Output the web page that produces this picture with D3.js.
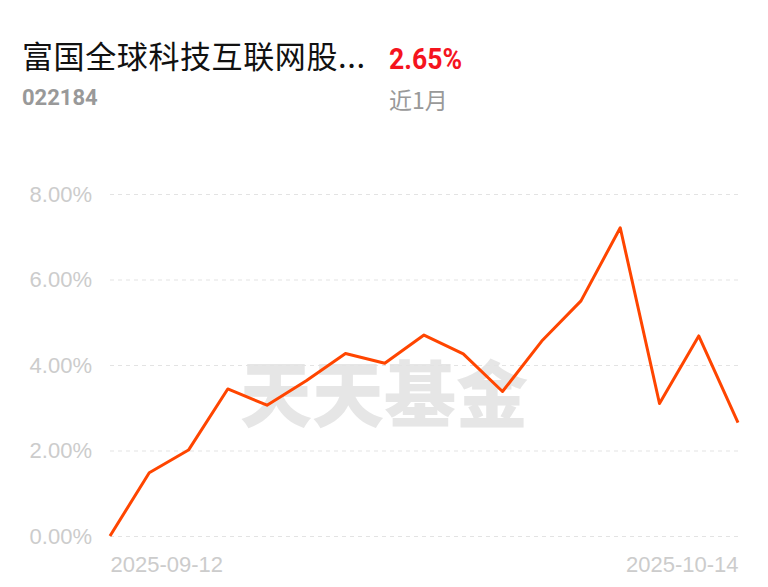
<!DOCTYPE html>
<html>
<head>
<meta charset="utf-8">
<script src="https://cdn.jsdelivr.net/npm/d3@7/dist/d3.min.js"></script>
<style>
  body { margin: 0; background: #fff; }
  svg { display: block; }
</style>
</head>
<body>
<div id="chart"></div>
<script>
// fund info
const fundName = "富国全球科技互联网股..."
const fundCode = "022184"
const periodReturn = "2.65%"
const periodLabel = "近1月"
const watermark = "天天基金"

// series: cumulative return (%) per trading day
const dates = ["2025-09-12", "2025-09-15", "2025-09-16", "2025-09-17", "2025-09-18",
    "2025-09-19", "2025-09-22", "2025-09-23", "2025-09-24", "2025-09-25", "2025-09-26",
    "2025-09-29", "2025-09-30", "2025-10-09", "2025-10-10", "2025-10-13", "2025-10-14"]
const returns = [0, 1.48, 2.01, 3.44, 3.06, 3.63, 4.27, 4.04, 4.70, 4.26, 3.38,
    4.56, 5.50, 7.21, 3.10, 4.68, 2.65]
const yTicks = [0, 2, 4, 6, 8]
const xTickLabels = ["2025-09-12", "2025-10-14"]

let width = 768
let height = 587
let margin = { top: 194, right: 30, bottom: 51, left: 110 }

let svg = d3.select("#chart")
    .append("svg")
    .attr("width", width)
    .attr("height", height)

// header
svg.append("text")
    .attr("x", 22).attr("y", 68)
    .attr("font-family", "'Noto Sans CJK SC', sans-serif")
    .attr("font-size", 31)
    .attr("letter-spacing", 0.6)
    .attr("fill", "#111")
    .text(fundName)

svg.append("text")
    .attr("x", 22).attr("y", 105)
    .attr("font-family", "Roboto, 'Noto Sans', sans-serif")
    .attr("font-weight", "bold")
    .attr("font-size", 22)
    .attr("fill", "#999")
    .text(fundCode)

svg.append("text")
    .attr("x", 389).attr("y", 69)
    .attr("font-family", "Roboto, 'Noto Sans', sans-serif")
    .attr("font-weight", "bold")
    .attr("font-size", 30)
    .attr("textLength", 73)
    .attr("lengthAdjust", "spacingAndGlyphs")
    .attr("fill", "#f5141e")
    .text(periodReturn)

svg.append("text")
    .attr("x", 389).attr("y", 109)
    .attr("font-family", "'Noto Sans CJK SC', sans-serif")
    .attr("font-size", 23)
    .attr("fill", "#999")
    .text(periodLabel)

// scales
let x = d3.scalePoint()
    .domain(dates)
    .range([margin.left, width - margin.right])

let y = d3.scaleLinear()
    .domain([0, 8])
    .range([height - margin.bottom, margin.top])

// watermark
svg.append("text")
    .attr("x", 384).attr("y", 421)
    .attr("text-anchor", "middle")
    .attr("font-family", "'Noto Sans CJK SC', sans-serif")
    .attr("font-weight", 900)
    .attr("font-size", 72)
    .attr("fill", "#e6e6e6")
    .text(watermark)

// Y axis + grid
let yAxis = svg.append("g")
    .attr("transform", "translate(" + margin.left + ",0)")
    .call(d3.axisLeft(y)
        .tickValues(yTicks)
        .tickSize(-(width - margin.left - margin.right))
        .tickPadding(18)
        .tickFormat(d => d.toFixed(2) + "%"))

yAxis.select(".domain").remove()
yAxis.selectAll("line")
    .attr("stroke", "#e3e3e3")
    .attr("stroke-width", 1)
    .attr("stroke-dasharray", "4,4")
yAxis.selectAll("text")
    .attr("font-family", "'Liberation Sans', Arial, sans-serif")
    .attr("font-size", 22)
    .attr("fill", "#cccccc")

// X axis
let xAxis = svg.append("g")
    .attr("transform", "translate(0," + (height - margin.bottom) + ")")
    .call(d3.axisBottom(x)
        .tickValues(xTickLabels)
        .tickSize(0)
        .tickPadding(20))

xAxis.select(".domain").remove()
xAxis.selectAll("text")
    .attr("font-family", "'Liberation Sans', Arial, sans-serif")
    .attr("font-size", 22)
    .attr("fill", "#cccccc")
    .attr("text-anchor", (d, i) => i === 0 ? "start" : "end")

// line
svg.append("path")
    .datum(returns)
    .attr("fill", "none")
    .attr("stroke", "#ff4500")
    .attr("stroke-width", 3)
    .attr("stroke-linejoin", "round")
    .attr("d", d3.line()
        .x((d, i) => x(dates[i]))
        .y(d => y(d)))
</script>
</body>
</html>
